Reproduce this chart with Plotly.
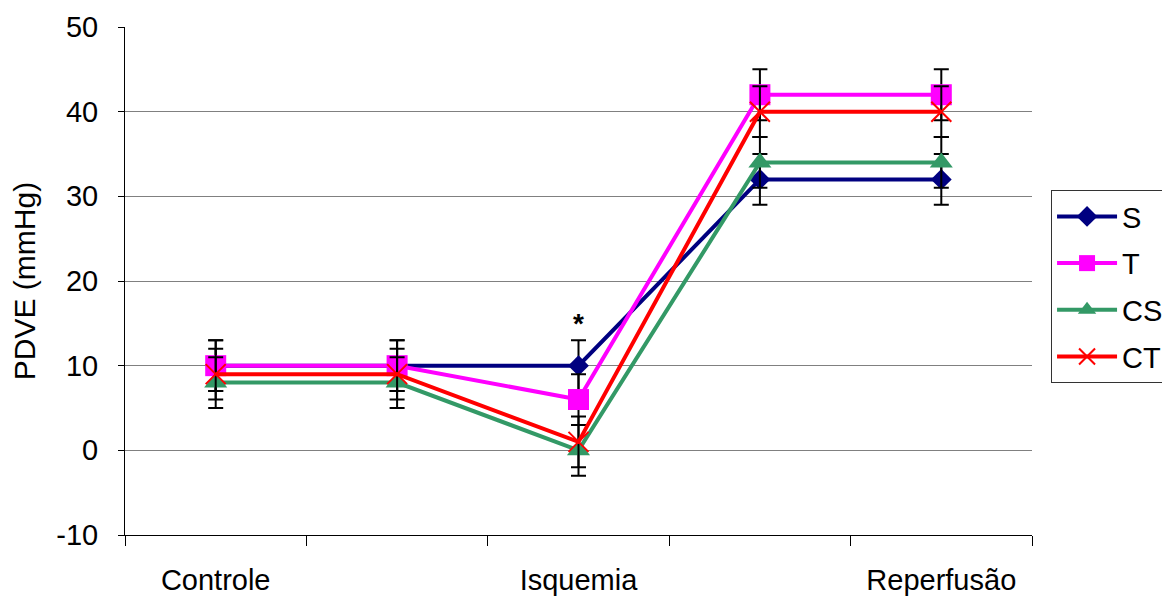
import plotly.graph_objects as go

categories = ["Controle", " ", "Isquemia", "  ", "Reperfusão"]
series_names = ["S", "T", "CS", "CT"]
s_vals = [10, 10, 10, 32, 32]
t_vals = [10, 10, 6, 42, 42]
cs_vals = [8, 8, 0, 34, 34]
ct_vals = [9, 9, 1, 40, 40]
s_err = [3, 3, 3, 3, 3]
t_err = [3, 3, 3, 3, 3]
cs_err = [3, 3, 3, 3, 3]
ct_err = [3, 3, 3, 3, 3]
y_ticks = [-10, 0, 10, 20, 30, 40, 50]
y_labels = ["-10", "0", "10", "20", "30", "40", "50"]

FONT = "Liberation Sans, Arial, sans-serif"

styles = [
    dict(color="#000080", symbol="diamond", size=16, line=dict(width=0)),
    dict(color="#FF00FF", symbol="square", size=21, line=dict(width=0)),
    dict(color="#339966", symbol="triangle-up", size=20, line=dict(width=0)),
    dict(color="#FF0000", symbol="x-thin", size=20, line=dict(width=2, color="#FF0000")),
]
vals = [s_vals, t_vals, cs_vals, ct_vals]
errs = [s_err, t_err, cs_err, ct_err]

fig = go.Figure()
for name, v, e, st in zip(series_names, vals, errs, styles):
    fig.add_trace(go.Scatter(
        x=categories, y=v, name=name, mode="lines+markers",
        legendgroup=name,
        line=dict(color=st["color"], width=4),
        marker=st,
        error_y=dict(type="data", array=e, color="black", thickness=2, width=7.5),
    ))

fig.add_annotation(x=categories[2], y=s_vals[2], yshift=42, text="<b>*</b>",
                   showarrow=False, font=dict(size=28, color="black", family=FONT))

fig.update_layout(
    width=1170, height=597,
    margin=dict(l=117, r=146, t=19, b=70, autoexpand=False),
    plot_bgcolor="white", paper_bgcolor="white",
    font=dict(family=FONT, size=29, color="black"),
    showlegend=True,
    legend=dict(x=1.021, y=0.679, xanchor="left", yanchor="top",
                bordercolor="#333333", borderwidth=1, bgcolor="white",
                font=dict(size=29, family=FONT), tracegroupgap=6, itemwidth=60),
    xaxis=dict(type="category", tickson="boundaries", ticks="outside", ticklen=10,
               tickcolor="black", showline=True, linecolor="black", linewidth=1,
               showgrid=False, tickfont=dict(size=29), range=[-0.5, 4.5],
               ticklabelstandoff=19, automargin=False),
    yaxis=dict(range=[-10, 50], tickvals=y_ticks, ticktext=y_labels, ticks="outside",
               ticklen=6, tickcolor="black", showline=True, linecolor="black",
               linewidth=1, showgrid=True, gridcolor="#808080", gridwidth=1,
               zeroline=False, ticklabelstandoff=14, automargin=False,
               title=dict(text="PDVE (mmHg)", font=dict(size=30), standoff=12),
               tickfont=dict(size=29)),
)

fig.write_html("out.html")
